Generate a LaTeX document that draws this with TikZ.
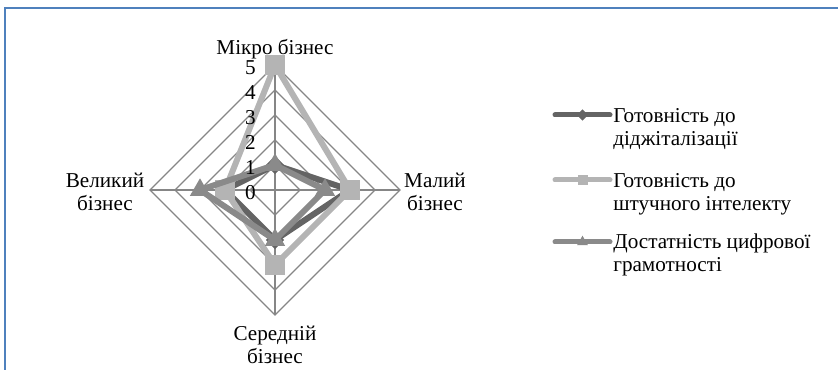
\documentclass[tikz,border=0pt]{standalone}
\usepackage{fontspec}
\setmainfont{Liberation Serif}
\newfontfamily\chartfont{Liberation Serif}
\usetikzlibrary{positioning,shapes.geometric,calc}

\definecolor{frameblue}{RGB}{79,129,189}
\definecolor{gridgray}{RGB}{134,134,134}
\definecolor{serdark}{RGB}{100,100,100}
\definecolor{serlight}{RGB}{180,180,180}
\definecolor{sermid}{RGB}{138,138,138}

\begin{document}
\begin{tikzpicture}[x=0.6pt,y=0.6pt,
    font=\chartfont\fontsize{12.7}{13.8}\selectfont,
    grid/.style={draw=gridgray,line width=0.8pt},
    series/.style={line width=3.6pt,line join=round},
    axlabel/.style={align=center,inner sep=0pt},
    legtext/.style={align=left,anchor=west,inner sep=0pt},
    dmark/.style={diamond,fill=serdark,minimum size=11pt,inner sep=0pt},
    smark/.style={rectangle,fill=serlight,minimum size=11.5pt,inner sep=0pt},
    tmark/.style={regular polygon,regular polygon sides=3,fill=sermid,minimum size=14pt,inner sep=0pt}]

  \useasboundingbox (0,0) rectangle (838,370);
  \clip (0,0) rectangle (838,370);

  % frame
  \draw[frameblue,line width=1.2pt] (5,-20) -- (5,362) -- (860,362);

  \begin{scope}[shift={(275,180)}]
    % web
    \foreach \r in {1,...,5}
      \draw[grid] (0,25*\r) -- (25*\r,0) -- (0,-25*\r) -- (-25*\r,0) -- cycle;
    \coordinate (o) at (0,0);
    \coordinate (top) at (0,125);
    \coordinate (right) at (125,0);
    \coordinate (bottom) at (0,-125);
    \coordinate (left) at (-125,0);
    \draw[grid] (top) -- (bottom);
    \draw[grid] (left) -- (right);

    % data points
    \foreach \s/\a/\b/\c/\d in {1/1/3/2/2, 2/5/3/3/2, 3/1/2/2/3} {
      \coordinate (p\s-1) at (0,25*\a);
      \coordinate (p\s-2) at (25*\b,0);
      \coordinate (p\s-3) at (0,-25*\c);
      \coordinate (p\s-4) at (-25*\d,0);
    }

    \draw[series,serdark] (p1-1) -- (p1-2) -- (p1-3) -- (p1-4) -- cycle;
    \foreach \i in {1,...,4}
      \node[dmark] (q1-\i) at (p1-\i) {};
    \draw[series,serlight] (p2-1) -- (p2-2) -- (p2-3) -- (p2-4) -- cycle;
    \foreach \i in {1,...,4}
      \node[smark] (q2-\i) at (p2-\i) {};
    \draw[series,sermid] (p3-1) -- (p3-2) -- (p3-3) -- (p3-4) -- cycle;
    \foreach \i in {1,...,4}
      \node[tmark] (q3-\i) at (p3-\i) {};

    % scale
    \foreach \v in {0,...,5}
      \node[anchor=east,inner sep=0pt] (v\v) at (-19,25*\v-3) {\v};

    % axis labels
    \node[axlabel,anchor=base] (micro) at (0,135) {Мікро бізнес};
    \node[axlabel] (small) at (160,-2) {Малий\\бізнес};
    \node[axlabel] (medium) at (0,-155) {Середній\\бізнес};
    \node[axlabel] (large) at (-170,-2) {Великий\\бізнес};
  \end{scope}

  % legend
  \coordinate (k1a) at (555,255);
  \coordinate (k1b) at (610,255);
  \coordinate (k2a) at (555,190);
  \coordinate (k2b) at (610,190);
  \coordinate (k3a) at (555,128);
  \coordinate (k3b) at (610,128);
  \draw[line width=3pt,line cap=round,serdark] (k1a) -- (k1b);
  \node[dmark,minimum size=7pt] (km1) at ($(k1a)!0.5!(k1b)$) {};
  \draw[line width=3pt,line cap=round,serlight] (k2a) -- (k2b);
  \node[smark,minimum size=6pt] (km2) at ($(k2a)!0.5!(k2b)$) {};
  \draw[line width=3pt,line cap=round,sermid] (k3a) -- (k3b);
  \node[tmark,minimum size=7.5pt] (km3) at ($(k3a)!0.5!(k3b)$) {};

  \node[legtext] (leg1) at (613,241) {Готовність до\\діджіталізації};
  \node[legtext] (leg2) at (613,176) {Готовність до\\штучного інтелекту};
  \node[legtext] (leg3) at (613,115) {Достатність цифрової\\грамотності};

\end{tikzpicture}
\end{document}
